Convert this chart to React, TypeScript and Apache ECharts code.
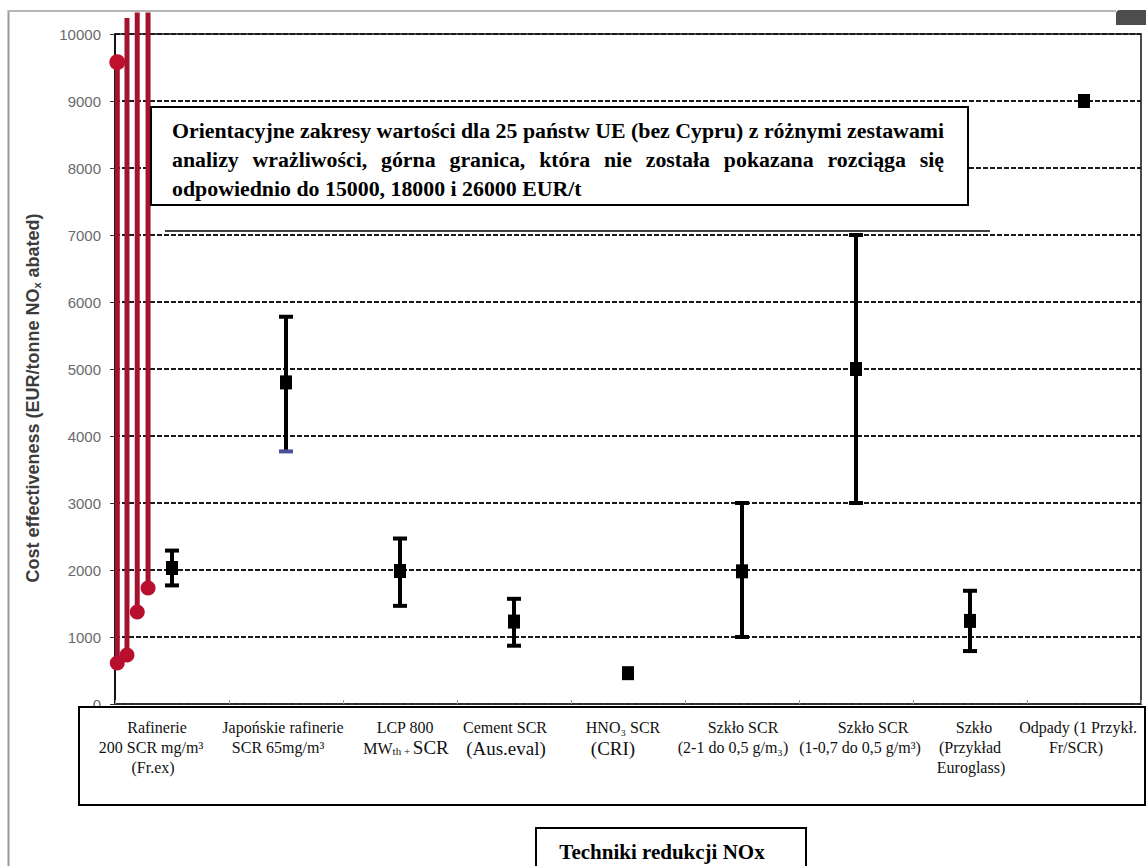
import React, { useEffect, useRef } from "react";
import * as echarts from "echarts";

// ---------- data ----------
const categoryLabels: string[][] = [
  ["Rafinerie", "200 SCR mg/m³", "(Fr.ex)"],
  ["Japońskie rafinerie", "SCR 65mg/m³"],
  ["LCP 800", "{n|MW}{s|th + }{b|SCR}"],
  ["Cement SCR", "{b|(Aus.eval)}"],
  ["HNO₃ SCR", "{b|(CRI)}"],
  ["Szkło SCR", "(2-1 do 0,5 g/m₃)"],
  ["Szkło SCR", "(1-0,7 do 0,5 g/m³)"],
  ["Szkło", "(Przykład", "Euroglass)"],
  ["Odpady (1 Przykł.", "Fr/SCR)"],
];

// red ranges (EU-25 indicative ranges)
const redX = [0.02, 0.105, 0.195, 0.29];
const redLow = [612, 731, 1373, 1731];
const redHigh = [9580, 10240, 10320, 10320];
const redTopDot = [1, 0, 0, 0];

// black min/max ranges
const rangeX = [0.5, 1.5, 2.5, 3.5, 5.5, 6.5, 7.5];
const rangeLow = [1770, 3770, 1465, 870, 1000, 3000, 790];
const rangeHigh = [2290, 5780, 2470, 1570, 3000, 7000, 1690];

// central values
const midX = [0.5, 1.5, 2.5, 3.5, 4.5, 5.5, 6.5, 7.5, 8.5];
const midY = [2030, 4800, 1985, 1230, 460, 1980, 5000, 1240, 9000];

const yMin = 0;
const yMax = 10000;
const yStep = 1000;

const annotationLines = [
  "Orientacyjne zakresy wartości dla 25 państw UE (bez Cypru) z różnymi zestawami",
  "analizy wrażliwości, górna granica, która nie została pokazana rozciąga się",
  "odpowiednio do 15000, 18000 i 26000 EUR/t",
];
const axisTitle = "Techniki redukcji NOx";
const yTitle = "Cost effectiveness (EUR/tonne NO{sub|x} abated)";

// ---------- layout ----------
const labelCenters = [
  [157, 151, 153],
  [283, 278],
  [405, 406],
  [505, 506],
  [623, 613],
  [743, 733],
  [873, 860],
  [974, 970, 971],
  [1078, 1076],
];
const labelRowsY = [727, 747, 767];

const SERIF = '"Liberation Serif", "Times New Roman", serif';
const SANS = '"Liberation Sans", Arial, sans-serif';

function measure(ctx: CanvasRenderingContext2D | null, text: string) {
  if (!ctx) return text.length * 9;
  return ctx.measureText(text).width;
}

export default function App() {
  const ref = useRef<HTMLDivElement>(null);

  useEffect(() => {
    if (!ref.current) return;
    const chart = echarts.init(ref.current, undefined, { renderer: "svg" });

    // annotation justification
    const canvas = document.createElement("canvas");
    const ctx = canvas.getContext("2d");
    const annX0 = 172;
    const annX1 = 944;
    let annSize = 21;
    if (ctx) {
      ctx.font = `bold 21px ${SERIF}`;
      const w = measure(ctx, annotationLines[0]);
      annSize = Math.max(16, Math.min(24, (21 * (annX1 - annX0)) / w));
      ctx.font = `bold ${annSize}px ${SERIF}`;
    }
    const annFont = `bold ${annSize.toFixed(2)}px ${SERIF}`;
    const annY = [131, 160, 189];
    const annEls: any[] = [];
    annotationLines.forEach((line, li) => {
      if (li === annotationLines.length - 1) {
        annEls.push({
          type: "text",
          x: annX0,
          y: annY[li],
          z: 120,
          style: { text: line, font: annFont, fill: "#000", align: "left", verticalAlign: "middle" },
        });
        return;
      }
      const words = line.split(" ");
      const widths = words.map((w) => measure(ctx, w));
      const total = widths.reduce((a, b) => a + b, 0);
      const gap = (annX1 - annX0 - total) / (words.length - 1);
      let x = annX0;
      words.forEach((w, i) => {
        annEls.push({
          type: "text",
          x,
          y: annY[li],
          z: 120,
          style: { text: w, font: annFont, fill: "#000", align: "left", verticalAlign: "middle" },
        });
        x += widths[i] + gap;
      });
    });

    const labelEls: any[] = [];
    categoryLabels.forEach((lines, ci) => {
      lines.forEach((t, li) => {
        const big = t.startsWith("{b|");
        labelEls.push({
          type: "text",
          x: labelCenters[ci][li],
          y: big ? labelRowsY[li] + 1 : labelRowsY[li],
          z: 120,
          style: {
            text: t,
            font: `16px ${SERIF}`,
            fill: "#111",
            align: "center",
            verticalAlign: "middle",
            rich: {
              n: { fontSize: 16, fontFamily: SERIF, fill: "#111", verticalAlign: "bottom" },
              s: { fontSize: 11, fontFamily: SERIF, fill: "#111", verticalAlign: "bottom" },
              b: { fontSize: 19, fontFamily: SERIF, fill: "#111", verticalAlign: "bottom" },
            },
          },
        });
      });
    });

    const redData = redX.map((x, i) => [x, redLow[i], redHigh[i], redTopDot[i]]);
    const rangeData = rangeX.map((x, i) => [x, rangeLow[i], rangeHigh[i]]);
    const midData = midX.map((x, i) => [x, midY[i]]);

    const option: any = {
      animation: false,
      backgroundColor: "#fff",
      grid: {
        left: 115,
        right: 5,
        top: 34,
        bottom: 162,
        show: true,
        borderColor: "#111",
        borderWidth: 1.5,
      },
      xAxis: {
        type: "value",
        min: 0,
        max: 9,
        interval: 1,
        axisLine: { show: true, onZero: false, lineStyle: { color: "#333", width: 1.5 } },
        axisTick: { show: true, inside: true, length: 4, lineStyle: { color: "#999" } },
        axisLabel: { show: false },
        splitLine: { show: false },
      },
      yAxis: {
        type: "value",
        min: yMin,
        max: yMax,
        interval: yStep,
        axisLine: { show: true, lineStyle: { color: "#000", width: 1.5 } },
        axisTick: { show: true, length: 5, lineStyle: { color: "#333" } },
        axisLabel: {
          fontFamily: SANS,
          fontSize: 15,
          color: "#6a6a6a",
          margin: 14,
          formatter: (v: number) => String(v),
        },
        splitLine: { show: true, lineStyle: { color: "#1a1a1a", width: 1.8, type: [5, 2] } },
      },
      series: [
        {
          type: "custom",
          name: "EU-25",
          clip: false,
          z: 5,
          data: redData,
          renderItem: (params: any, api: any) => {
            const x = api.value(0);
            const p1 = api.coord([x, api.value(1)]);
            const p2 = api.coord([x, api.value(2)]);
            const children: any[] = [
              {
                type: "line",
                shape: { x1: p1[0], y1: p1[1], x2: p2[0], y2: p2[1] },
                style: { stroke: "#a3122f", lineWidth: 5 },
              },
              { type: "circle", shape: { cx: p1[0], cy: p1[1], r: 7.5 }, style: { fill: "#b80f2f" } },
            ];
            if (api.value(3)) {
              children.push({ type: "circle", shape: { cx: p2[0], cy: p2[1], r: 8 }, style: { fill: "#c0102e" } });
            }
            return { type: "group", children };
          },
        },
        {
          type: "custom",
          name: "ranges",
          z: 6,
          data: rangeData,
          renderItem: (params: any, api: any) => {
            const x = api.value(0);
            const lo = api.coord([x, api.value(1)]);
            const hi = api.coord([x, api.value(2)]);
            const lowColor = params.dataIndex === 1 ? "#4b4f9a" : "#000";
            return {
              type: "group",
              children: [
                { type: "line", shape: { x1: lo[0], y1: lo[1], x2: hi[0], y2: hi[1] }, style: { stroke: "#000", lineWidth: 4 } },
                { type: "line", shape: { x1: hi[0] - 7, y1: hi[1], x2: hi[0] + 7, y2: hi[1] }, style: { stroke: "#000", lineWidth: 4 } },
                { type: "line", shape: { x1: lo[0] - 7, y1: lo[1], x2: lo[0] + 7, y2: lo[1] }, style: { stroke: lowColor, lineWidth: 4 } },
              ],
            };
          },
        },
        {
          type: "scatter",
          name: "central",
          z: 7,
          symbol: "rect",
          symbolSize: [12, 14],
          itemStyle: { color: "#000", opacity: 1 },
          data: midData,
        },
      ],
      graphic: [
        // outer frame
        { type: "line", z: 50, shape: { x1: 8.5, y1: 10, x2: 8.5, y2: 866 }, style: { stroke: "#9a9a9a", lineWidth: 2 } },
        { type: "line", z: 50, shape: { x1: 8, y1: 11, x2: 1116, y2: 11 }, style: { stroke: "#b5b5b5", lineWidth: 2 } },
        { type: "rect", z: 50, shape: { x: 1116, y: 10, width: 30, height: 15, r: [4, 0, 0, 0] }, style: { fill: "#4d4d4d" } },
        // y axis title
        {
          type: "text",
          z: 60,
          x: 33,
          y: 398,
          rotation: Math.PI / 2,
          style: {
            text: yTitle,
            font: `bold 18px ${SANS}`,
            fill: "#3c3c3c",
            align: "center",
            verticalAlign: "middle",
            rich: {
              sub: { fontFamily: SANS, fontSize: 11, fontWeight: "bold", fill: "#3c3c3c", verticalAlign: "bottom" },
            },
          },
        },
        // annotation box
        { type: "rect", z: 110, shape: { x: 151, y: 107, width: 817, height: 98 }, style: { fill: "#fff", stroke: "#000", lineWidth: 2 } },
        ...annEls,
        { type: "line", z: 110, shape: { x1: 165, y1: 231, x2: 990, y2: 231 }, style: { stroke: "#000", lineWidth: 1.5 } },
        // category label box
        { type: "rect", z: 110, shape: { x: 79, y: 707, width: 1066, height: 98 }, style: { fill: "#fff", stroke: "#000", lineWidth: 2 } },
        ...labelEls,
        // axis title box
        { type: "rect", z: 110, shape: { x: 536, y: 828, width: 270, height: 60 }, style: { fill: "#fff", stroke: "#000", lineWidth: 2 } },
        {
          type: "text",
          z: 120,
          x: 662,
          y: 852,
          style: { text: axisTitle, font: `bold 21px ${SERIF}`, fill: "#000", align: "center", verticalAlign: "middle" },
        },
      ],
    };

    chart.setOption(option);
    return () => chart.dispose();
  }, []);

  return (
    <div
      ref={ref}
      style={{ position: "absolute", left: 0, top: 0, width: 1146, height: 866, background: "#fff" }}
    />
  );
}
